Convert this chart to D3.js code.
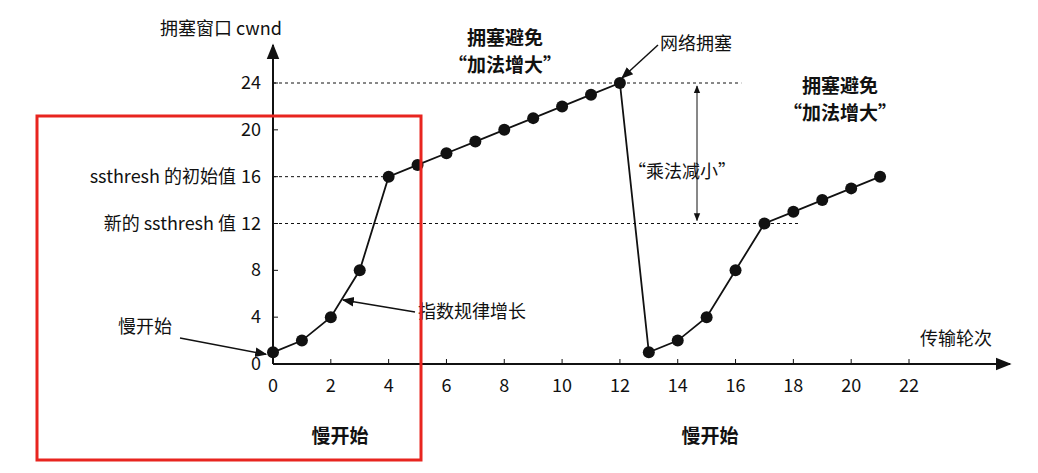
<!DOCTYPE html><html><head><meta charset="utf-8">
<script src="https://cdn.jsdelivr.net/npm/d3@7"></script>
<style>body{margin:0;background:#fff}text{font-family:"Noto Sans CJK SC",sans-serif;fill:#111}</style></head><body>
<svg id="c" width="1038" height="473"></svg>
<script>
const rounds1=[0,1,2,3,4,5,6,7,8,9,10,11,12];
const cwnd1=[1,2,4,8,16,17,18,19,20,21,22,23,24];
const rounds2=[13,14,15,16,17,18,19,20,21];
const cwnd2=[1,2,4,8,12,13,14,15,16];
const xTicks=[0,2,4,6,8,10,12,14,16,18,20,22];
const yTicks=[0,4,8,12,16,20,24];
const svg=d3.select("#c");
const x=d3.scaleLinear().domain([0,22]).range([273,909]);
const y=d3.scaleLinear().domain([0,24]).range([364,83]);
svg.append("defs").append("marker").attr("id","a").attr("viewBox","0 0 10 10").attr("refX",9).attr("refY",5)
 .attr("markerWidth",8).attr("markerHeight",8).attr("orient","auto-start-reverse")
 .append("path").attr("d","M0,1L10,5L0,9Z").attr("fill","#111");
svg.append("line").attr("x1",x(0)).attr("x2",1010).attr("y1",y(0)).attr("y2",y(0)).attr("stroke","#111").attr("stroke-width",2).attr("marker-end","url(#a)");
svg.append("line").attr("x1",x(0)).attr("x2",x(0)).attr("y1",y(0)).attr("y2",45).attr("stroke","#111").attr("stroke-width",2).attr("marker-end","url(#a)");
xTicks.forEach(t=>{svg.append("line").attr("x1",x(t)).attr("x2",x(t)).attr("y1",y(0)).attr("y2",y(0)-5).attr("stroke","#111");
 svg.append("text").attr("x",x(t)).attr("y",y(0)+28).attr("text-anchor","middle").attr("font-size",18).text(t);});
yTicks.forEach(t=>{svg.append("line").attr("x1",x(0)).attr("x2",x(0)+5).attr("y1",y(t)).attr("y2",y(t)).attr("stroke","#111");
 svg.append("text").attr("x",x(0)-12).attr("y",y(t)+6).attr("text-anchor","end").attr("font-size",18).text(t);});
[[24,16.2],[16,3.8],[12,18.2]].forEach(([v,e])=>svg.append("line").attr("x1",x(0)).attr("x2",x(e)).attr("y1",y(v)).attr("y2",y(v)).attr("stroke","#111").attr("stroke-dasharray","3,3"));
svg.append("line").attr("x1",697).attr("x2",697).attr("y1",y(24)+3).attr("y2",y(12)-3).attr("stroke","#111").attr("marker-end","url(#a)").attr("marker-start","url(#a)");
const all=rounds1.map((r,i)=>[r,cwnd1[i]]).concat(rounds2.map((r,i)=>[r,cwnd2[i]]));
svg.append("path").attr("d",d3.line().x(d=>x(d[0])).y(d=>y(d[1]))(all)).attr("fill","none").attr("stroke","#111").attr("stroke-width",1.8);
svg.selectAll("circle").data(all).join("circle").attr("cx",d=>x(d[0])).attr("cy",d=>y(d[1])).attr("r",6).attr("fill","#111");
const T=(t,a,b,s,w,anc)=>svg.append("text").attr("x",a).attr("y",b).attr("font-size",s||18).attr("font-weight",w||"normal").attr("text-anchor",anc||"start").text(t);
T("拥塞窗口 cwnd",160,35,18);
T("ssthresh 的初始值",236,y(16)+6,18,"normal","end");
T("新的 ssthresh 值",236,y(12)+6,18,"normal","end");
T("慢开始",118,333,18);
T("指数规律增长",418,318,18);
T("网络拥塞",660,50,18);
T("“乘法减小”",628,178,18);
T("拥塞避免",505,45,19,"bold","middle");
T("“加法增大”",505,72,19,"bold","middle");
T("拥塞避免",840,93,19,"bold","middle");
T("“加法增大”",840,120,19,"bold","middle");
T("传输轮次",920,345,18);
T("慢开始",340,443,19,"bold","middle");
T("慢开始",710,443,19,"bold","middle");
const ar=(x1,y1,x2,y2)=>svg.append("line").attr("x1",x1).attr("y1",y1).attr("x2",x2).attr("y2",y2).attr("stroke","#111").attr("stroke-width",1.5).attr("marker-end","url(#a)");
ar(180,338,x(0)-7,y(1)+2);
ar(415,312,343,300);
ar(658,45,622,78);
svg.append("rect").attr("x",37).attr("y",116).attr("width",384).attr("height",344).attr("fill","none").attr("stroke","#e8251f").attr("stroke-width",3);
</script></body></html>
